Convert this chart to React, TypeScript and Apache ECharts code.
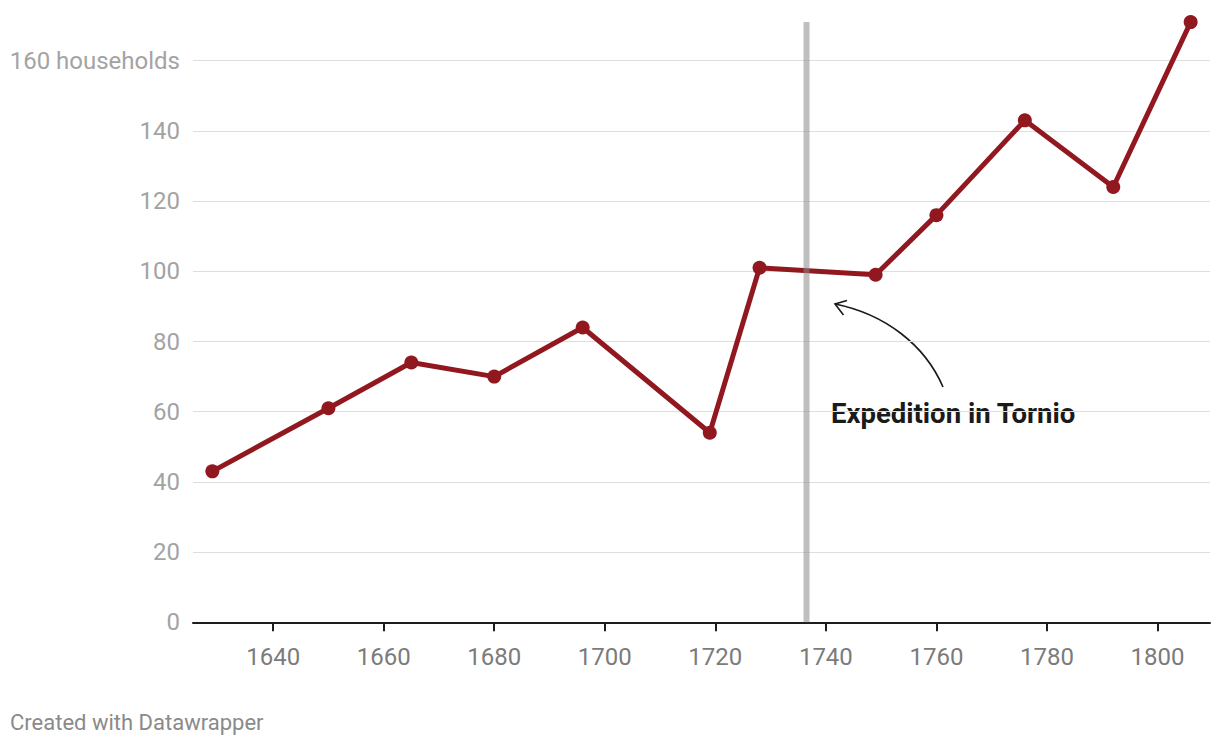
import React, { useEffect, useRef } from "react";
import * as echarts from "echarts";

const years = [1629, 1650, 1665, 1680, 1696, 1719, 1728, 1749, 1760, 1776, 1792, 1806];
const households = [43, 61, 74, 70, 84, 54, 101, 99, 116, 143, 124, 171];
const xTicks = [1640, 1660, 1680, 1700, 1720, 1740, 1760, 1780, 1800];
const expeditionYear = 1736.5;
const expeditionLabel = "Expedition in Tornio";
const yUnit = "households";
const footer = "Created with Datawrapper";

export default function App() {
  const ref = useRef<HTMLDivElement>(null);
  useEffect(() => {
    if (!ref.current) return;
    const chart = echarts.init(ref.current, null, { renderer: "svg" });
    const font = "Roboto";
    chart.setOption({
      animation: false,
      backgroundColor: "#ffffff",
      textStyle: { fontFamily: font },
      grid: { left: 193, right: 10, top: 60.7, bottom: 125.7 },
      xAxis: {
        type: "value",
        min: 1625.5,
        max: 1809.5,
        axisLine: { show: true, onZero: false, lineStyle: { color: "#1d1d1d", width: 2 } },
        axisTick: { show: true, customValues: xTicks, length: 9, lineStyle: { color: "#1d1d1d", width: 2 } },
        axisLabel: {
          customValues: xTicks,
          color: "#7b7b7b",
          fontSize: 24,
          fontFamily: font,
          margin: 23,
          formatter: (v: number) => String(v),
        },
        splitLine: { show: false },
      },
      yAxis: {
        type: "value",
        min: 0,
        max: 160,
        interval: 20,
        axisLine: { show: false },
        axisTick: { show: false },
        axisLabel: {
          color: "#a3a3a3",
          fontSize: 24,
          fontFamily: font,
          margin: 13,
          formatter: (v: number) => (v === 160 ? `${v} ${yUnit}` : String(v)),
        },
        splitLine: { show: true, lineStyle: { color: "#dedede", width: 1 } },
      },
      series: [
        {
          type: "line",
          data: years.map((y, i) => [y, households[i]]),
          clip: false,
          z: 2,
          symbol: "circle",
          symbolSize: 14,
          lineStyle: { color: "#921820", width: 5 },
          itemStyle: { color: "#921820" },
        },
        {
          type: "line",
          data: [
            [expeditionYear, 0],
            [expeditionYear, Math.max(...households)],
          ],
          clip: false,
          z: 3,
          symbol: "none",
          lineStyle: { color: "#8a8a8a", width: 6, opacity: 0.55, cap: "butt" },
        },
      ],
      graphic: [
        {
          type: "text",
          left: 10,
          top: 711,
          style: { text: footer, fill: "#8a8a8a", fontSize: 22, fontFamily: font },
        },
        {
          type: "text",
          x: 831,
          y: 413,
          style: {
            text: expeditionLabel,
            fill: "#1a1a1a",
            fontSize: 27.5,
            fontWeight: "bold",
            fontFamily: font,
            verticalAlign: "middle",
            align: "left",
          },
        },
        {
          type: "bezierCurve",
          shape: { x1: 943, y1: 387, cpx1: 925, cpy1: 345, cpx2: 885, cpy2: 314, x2: 835, y2: 304 },
          style: { stroke: "#1a1a1a", lineWidth: 1.6, fill: "none" },
        },
        {
          type: "polyline",
          shape: { points: [[847, 300.5], [835, 304], [843.5, 315]] },
          style: { stroke: "#1a1a1a", lineWidth: 1.6, fill: "none" },
        },
      ],
    });
    return () => chart.dispose();
  }, []);
  return (
    <div
      ref={ref}
      style={{ position: "fixed", left: 0, top: 0, width: 1220, height: 748 }}
    />
  );
}
